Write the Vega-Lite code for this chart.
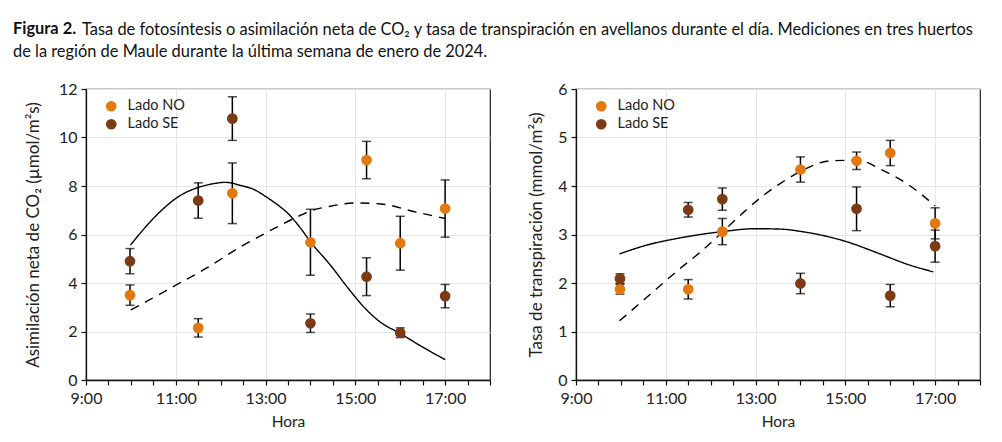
{
  "$schema": "https://vega.github.io/schema/vega-lite/v6.json",
  "background": "white",
  "padding": {"left": 12, "top": 20, "right": 10, "bottom": 4},
  "datasets": {
    "puntosA": [
      {"hora": 9.98, "lado": "Lado NO", "valor": 3.50, "ee": 0.42},
      {"hora": 11.5, "lado": "Lado NO", "valor": 2.15, "ee": 0.38},
      {"hora": 12.26, "lado": "Lado NO", "valor": 7.70, "ee": 1.25},
      {"hora": 14.0, "lado": "Lado NO", "valor": 5.68, "ee": 1.36},
      {"hora": 15.25, "lado": "Lado NO", "valor": 9.07, "ee": 0.77},
      {"hora": 16.0, "lado": "Lado NO", "valor": 5.64, "ee": 1.11},
      {"hora": 17.0, "lado": "Lado NO", "valor": 7.07, "ee": 1.18},
      {"hora": 9.98, "lado": "Lado SE", "valor": 4.90, "ee": 0.52},
      {"hora": 11.5, "lado": "Lado SE", "valor": 7.40, "ee": 0.73},
      {"hora": 12.26, "lado": "Lado SE", "valor": 10.78, "ee": 0.90},
      {"hora": 14.0, "lado": "Lado SE", "valor": 2.34, "ee": 0.38},
      {"hora": 15.25, "lado": "Lado SE", "valor": 4.26, "ee": 0.78},
      {"hora": 16.0, "lado": "Lado SE", "valor": 1.95, "ee": 0.20},
      {"hora": 17.0, "lado": "Lado SE", "valor": 3.46, "ee": 0.48}
    ],
    "curvasA": [
      {"hora": 10.0, "lado": "NO", "valor": 2.89},
      {"hora": 10.35, "lado": "NO", "valor": 3.24},
      {"hora": 11.02, "lado": "NO", "valor": 3.93},
      {"hora": 11.7, "lado": "NO", "valor": 4.63},
      {"hora": 12.45, "lado": "NO", "valor": 5.5},
      {"hora": 13.0, "lado": "NO", "valor": 6.06},
      {"hora": 13.8, "lado": "NO", "valor": 6.81},
      {"hora": 14.01, "lado": "NO", "valor": 6.98},
      {"hora": 14.4, "lado": "NO", "valor": 7.15},
      {"hora": 15.0, "lado": "NO", "valor": 7.3},
      {"hora": 15.57, "lado": "NO", "valor": 7.26},
      {"hora": 16.32, "lado": "NO", "valor": 6.94},
      {"hora": 17.0, "lado": "NO", "valor": 6.66},
      {"hora": 9.99, "lado": "SE", "valor": 5.56},
      {"hora": 10.35, "lado": "SE", "valor": 6.36},
      {"hora": 10.72, "lado": "SE", "valor": 7.06},
      {"hora": 11.1, "lado": "SE", "valor": 7.61},
      {"hora": 11.47, "lado": "SE", "valor": 7.92},
      {"hora": 11.85, "lado": "SE", "valor": 8.1},
      {"hora": 12.11, "lado": "SE", "valor": 8.15},
      {"hora": 12.45, "lado": "SE", "valor": 8.02},
      {"hora": 12.75, "lado": "SE", "valor": 7.85},
      {"hora": 13.0, "lado": "SE", "valor": 7.57},
      {"hora": 13.25, "lado": "SE", "valor": 7.25},
      {"hora": 13.51, "lado": "SE", "valor": 6.85},
      {"hora": 13.75, "lado": "SE", "valor": 6.33},
      {"hora": 14.01, "lado": "SE", "valor": 5.68},
      {"hora": 14.46, "lado": "SE", "valor": 4.7},
      {"hora": 14.83, "lado": "SE", "valor": 3.81},
      {"hora": 15.2, "lado": "SE", "valor": 2.99},
      {"hora": 15.57, "lado": "SE", "valor": 2.37},
      {"hora": 16.0, "lado": "SE", "valor": 1.92},
      {"hora": 16.47, "lado": "SE", "valor": 1.39},
      {"hora": 17.0, "lado": "SE", "valor": 0.84}
    ],
    "puntosB": [
      {"hora": 9.98, "lado": "Lado NO", "valor": 1.87, "ee": 0.10},
      {"hora": 11.5, "lado": "Lado NO", "valor": 1.87, "ee": 0.20},
      {"hora": 12.26, "lado": "Lado NO", "valor": 3.06, "ee": 0.27},
      {"hora": 14.0, "lado": "Lado NO", "valor": 4.34, "ee": 0.26},
      {"hora": 15.25, "lado": "Lado NO", "valor": 4.52, "ee": 0.18},
      {"hora": 16.0, "lado": "Lado NO", "valor": 4.68, "ee": 0.26},
      {"hora": 17.0, "lado": "Lado NO", "valor": 3.23, "ee": 0.32},
      {"hora": 9.98, "lado": "Lado SE", "valor": 2.09, "ee": 0.10},
      {"hora": 11.5, "lado": "Lado SE", "valor": 3.51, "ee": 0.15},
      {"hora": 12.26, "lado": "Lado SE", "valor": 3.73, "ee": 0.23},
      {"hora": 14.0, "lado": "Lado SE", "valor": 1.99, "ee": 0.21},
      {"hora": 15.25, "lado": "Lado SE", "valor": 3.53, "ee": 0.45},
      {"hora": 16.0, "lado": "Lado SE", "valor": 1.74, "ee": 0.23},
      {"hora": 17.0, "lado": "Lado SE", "valor": 2.76, "ee": 0.33}
    ],
    "curvasB": [
      {"hora": 9.97, "lado": "NO", "valor": 1.22},
      {"hora": 10.57, "lado": "NO", "valor": 1.7},
      {"hora": 11.32, "lado": "NO", "valor": 2.3},
      {"hora": 11.8, "lado": "NO", "valor": 2.66},
      {"hora": 12.26, "lado": "NO", "valor": 3.05},
      {"hora": 12.7, "lado": "NO", "valor": 3.43},
      {"hora": 13.1, "lado": "NO", "valor": 3.75},
      {"hora": 13.58, "lado": "NO", "valor": 4.07},
      {"hora": 14.0, "lado": "NO", "valor": 4.3},
      {"hora": 14.68, "lado": "NO", "valor": 4.52},
      {"hora": 15.28, "lado": "NO", "valor": 4.53},
      {"hora": 15.8, "lado": "NO", "valor": 4.34},
      {"hora": 16.4, "lado": "NO", "valor": 4.03},
      {"hora": 17.0, "lado": "NO", "valor": 3.59},
      {"hora": 9.97, "lado": "SE", "valor": 2.6},
      {"hora": 10.57, "lado": "SE", "valor": 2.78},
      {"hora": 11.32, "lado": "SE", "valor": 2.93},
      {"hora": 12.26, "lado": "SE", "valor": 3.06},
      {"hora": 13.0, "lado": "SE", "valor": 3.12},
      {"hora": 13.58, "lado": "SE", "valor": 3.11},
      {"hora": 14.03, "lado": "SE", "valor": 3.06},
      {"hora": 14.5, "lado": "SE", "valor": 2.98},
      {"hora": 15.0, "lado": "SE", "valor": 2.86},
      {"hora": 15.8, "lado": "SE", "valor": 2.59},
      {"hora": 16.4, "lado": "SE", "valor": 2.38},
      {"hora": 16.96, "lado": "SE", "valor": 2.23}
    ]
  },
  "hconcat": [
    {
      "width": 404,
      "height": 291,
      "title": {
        "text": "Figura 2.",
        "subtitle": "de la región de Maule durante la última semana de enero de 2024.",
        "anchor": "start",
        "frame": "group",
        "fontWeight": "bold",
        "dx": -73,
        "offset": 21
      },
      "layer": [
        {
          "data": {"name": "curvasA"},
          "mark": {"type": "line", "color": "black", "strokeWidth": 1.4, "interpolate": "monotone"},
          "encoding": {
            "x": {"field": "hora", "type": "quantitative"},
            "y": {"field": "valor", "type": "quantitative"},
            "detail": {"field": "lado"},
            "strokeDash": {"field": "lado", "type": "nominal", "scale": {"domain": ["NO", "SE"], "range": [[9, 7], [1, 0]]}, "legend": null}
          }
        },
        {
          "data": {"name": "puntosA"},
          "mark": {"type": "errorbar", "color": "black", "thickness": 1.5, "ticks": {"size": 9, "thickness": 1.5, "color": "black"}},
          "encoding": {
            "x": {"field": "hora", "type": "quantitative"},
            "y": {"field": "valor", "type": "quantitative"},
            "yError": {"field": "ee"}
          }
        },
        {
          "data": {"name": "puntosA"},
          "mark": {"type": "point", "filled": true, "size": 115, "opacity": 1},
          "encoding": {
            "x": {"field": "hora", "type": "quantitative"},
            "y": {"field": "valor", "type": "quantitative"},
            "color": {"field": "lado", "type": "nominal", "scale": {"domain": ["Lado NO", "Lado SE"], "range": ["#E3780F", "#7C3B14"]}, "legend": {"title": null, "orient": "none", "legendX": 18, "legendY": 10}}
          }
        }
      ],
      "encoding": {
        "x": {
          "field": "hora", "type": "quantitative", "title": "Hora",
          "scale": {"domain": [9, 18], "nice": false, "zero": false},
          "axis": {
            "values": [9, 9.5, 10, 10.5, 11, 11.5, 12, 12.5, 13, 13.5, 14, 14.5, 15, 15.5, 16, 16.5, 17, 17.5, 18],
            "labelExpr": "datum.value % 2 == 1 ? datum.value + ':00' : ''",
            "gridOpacity": {"condition": {"test": "datum.value % 2 == 1 && datum.value > 9", "value": 1}, "value": 0}
          }
        },
        "y": {
          "field": "valor", "type": "quantitative", "title": "Asimilación neta de CO₂ (µmol/m²s)",
          "scale": {"domain": [0, 12], "nice": false},
          "axis": {"values": [0, 2, 4, 6, 8, 10, 12], "titlePadding": 16}
        }
      },
      "resolve": {"scale": {"strokeDash": "independent"}}
    },
    {
      "width": 404,
      "height": 291,
      "title": {
        "text": "Tasa de fotosíntesis o asimilación neta de CO₂ y tasa de transpiración en avellanos durante el día. Mediciones en tres huertos",
        "anchor": "start",
        "frame": "group",
        "fontWeight": "normal",
        "dx": -494,
        "offset": 43
      },
      "layer": [
        {
          "data": {"name": "curvasB"},
          "mark": {"type": "line", "color": "black", "strokeWidth": 1.4, "interpolate": "monotone"},
          "encoding": {
            "x": {"field": "hora", "type": "quantitative"},
            "y": {"field": "valor", "type": "quantitative"},
            "detail": {"field": "lado"},
            "strokeDash": {"field": "lado", "type": "nominal", "scale": {"domain": ["NO", "SE"], "range": [[9, 7], [1, 0]]}, "legend": null}
          }
        },
        {
          "data": {"name": "puntosB"},
          "mark": {"type": "errorbar", "color": "black", "thickness": 1.5, "ticks": {"size": 9, "thickness": 1.5, "color": "black"}},
          "encoding": {
            "x": {"field": "hora", "type": "quantitative"},
            "y": {"field": "valor", "type": "quantitative"},
            "yError": {"field": "ee"}
          }
        },
        {
          "data": {"name": "puntosB"},
          "mark": {"type": "point", "filled": true, "size": 115, "opacity": 1},
          "encoding": {
            "x": {"field": "hora", "type": "quantitative"},
            "y": {"field": "valor", "type": "quantitative"},
            "color": {"field": "lado", "type": "nominal", "scale": {"domain": ["Lado NO", "Lado SE"], "range": ["#E3780F", "#7C3B14"]}, "legend": {"title": null, "orient": "none", "legendX": 18, "legendY": 10}}
          }
        }
      ],
      "encoding": {
        "x": {
          "field": "hora", "type": "quantitative", "title": "Hora",
          "scale": {"domain": [9, 18], "nice": false, "zero": false},
          "axis": {
            "values": [9, 9.5, 10, 10.5, 11, 11.5, 12, 12.5, 13, 13.5, 14, 14.5, 15, 15.5, 16, 16.5, 17, 17.5, 18],
            "labelExpr": "datum.value % 2 == 1 ? datum.value + ':00' : ''",
            "gridOpacity": {"condition": {"test": "datum.value % 2 == 1 && datum.value > 9", "value": 1}, "value": 0}
          }
        },
        "y": {
          "field": "valor", "type": "quantitative", "title": "Tasa de transpiración (mmol/m²s)",
          "scale": {"domain": [0, 6], "nice": false},
          "axis": {"values": [0, 1, 2, 3, 4, 5, 6], "titlePadding": 12}
        }
      },
      "resolve": {"scale": {"strokeDash": "independent"}}
    }
  ],
  "spacing": 86,
  "bounds": "flush",
  "resolve": {"scale": {"x": "independent", "y": "independent", "color": "independent", "strokeDash": "independent"}, "legend": {"color": "independent"}},
  "config": {
    "font": "Lato",
    "title": {
      "font": "Lato",
      "fontSize": 16.4,
      "color": "#111",
      "subtitleFont": "Lato",
      "subtitleFontSize": 16.4,
      "subtitleColor": "#111",
      "subtitlePadding": 6
    },
    "view": {"stroke": "#222", "strokeWidth": 1.2},
    "axis": {
      "domainColor": "#111",
      "domainWidth": 1.3,
      "tickColor": "#111",
      "tickWidth": 1.2,
      "tickSize": 5,
      "labelFont": "Lato",
      "labelFontSize": 16,
      "labelColor": "#222",
      "labelPadding": 4,
      "titleFont": "Lato",
      "titleFontSize": 17,
      "titleFontWeight": "normal",
      "titleColor": "#222",
      "gridColor": "#e6e6e6",
      "gridWidth": 1
    },
    "axisX": {"titleFontSize": 15.5, "titlePadding": 8, "labelPadding": 5, "labelFlush": false},
    "legend": {
      "labelFont": "Lato",
      "labelFontSize": 14.5,
      "labelColor": "#222",
      "symbolType": "circle",
      "symbolSize": 115,
      "symbolStrokeWidth": 0,
      "labelOffset": 9,
      "rowPadding": 3,
      "padding": 0
    }
  }
}
